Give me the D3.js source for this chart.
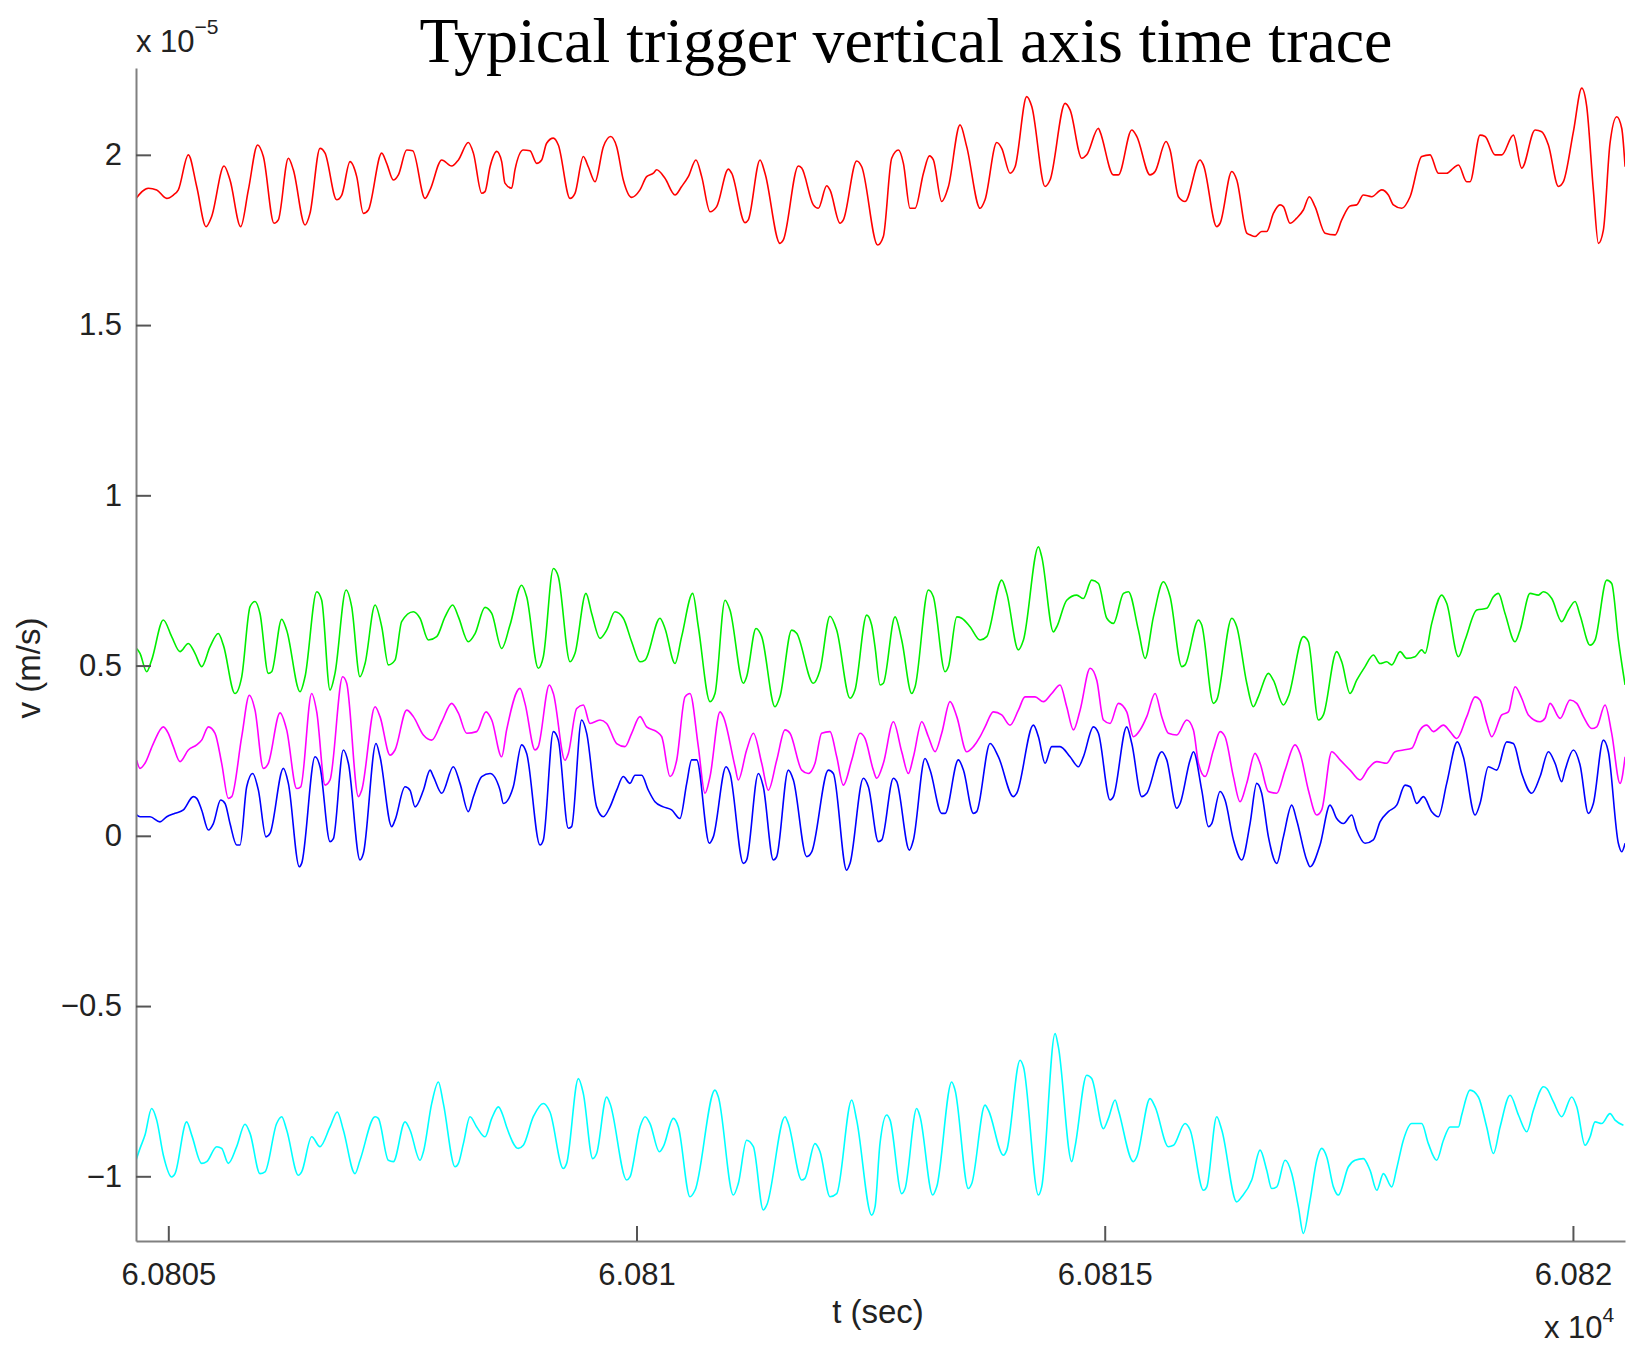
<!DOCTYPE html>
<html>
<head>
<meta charset="utf-8">
<script src="https://cdn.jsdelivr.net/npm/d3@7"></script>
<style>
  body { margin: 0; background: #fff; }
  svg { display: block; }
</style>
</head>
<body>
<script>
// Time is seconds after T0, velocity in units of 1e-5 m/s
var T0 = 60805;

var redTrace = [[-0.356,1.868],[-0.213,1.902],[-0.124,1.897],[-0.017,1.872],[0.054,1.882],[0.107,1.897],[0.214,2.000],[0.303,1.907],[0.403,1.789],[0.463,1.819],[0.595,1.967],[0.659,1.926],[0.773,1.789],[0.855,1.897],[0.954,2.029],[1.015,1.995],[1.129,1.799],[1.175,1.809],[1.282,1.990],[1.335,1.956],[1.460,1.794],[1.513,1.828],[1.620,2.019],[1.674,2.005],[1.798,1.868],[1.852,1.882],[1.941,1.980],[2.012,1.936],[2.083,1.828],[2.136,1.838],[2.279,2.005],[2.332,1.975],[2.403,1.926],[2.457,1.941],[2.546,2.014],[2.610,2.012],[2.742,1.872],[2.795,1.897],[2.920,1.985],[3.026,1.967],[3.098,1.985],[3.204,2.036],[3.258,2.005],[3.347,1.887],[3.382,1.892],[3.436,1.965],[3.507,2.010],[3.560,1.980],[3.595,1.917],[3.667,1.902],[3.702,1.956],[3.791,2.014],[3.862,2.012],[3.934,1.975],[3.987,1.985],[4.040,2.034],[4.112,2.049],[4.165,2.029],[4.290,1.872],[4.343,1.887],[4.432,1.995],[4.485,1.965],[4.557,1.921],[4.646,2.024],[4.724,2.054],[4.788,2.024],[4.859,1.926],[4.948,1.875],[5.037,1.897],[5.108,1.936],[5.180,1.946],[5.215,1.956],[5.304,1.931],[5.411,1.882],[5.482,1.907],[5.553,1.936],[5.635,1.985],[5.696,1.936],[5.785,1.833],[5.856,1.848],[5.981,1.958],[6.016,1.946],[6.159,1.801],[6.194,1.809],[6.319,1.985],[6.372,1.946],[6.532,1.740],[6.568,1.750],[6.728,1.967],[6.764,1.961],[6.888,1.853],[6.942,1.843],[7.031,1.909],[7.066,1.897],[7.173,1.799],[7.209,1.809],[7.351,1.982],[7.405,1.965],[7.575,1.735],[7.636,1.760],[7.725,1.990],[7.797,2.014],[7.850,1.975],[7.921,1.843],[7.975,1.843],[8.064,1.946],[8.128,1.997],[8.170,1.985],[8.259,1.863],[8.331,1.907],[8.455,2.088],[8.526,2.024],[8.669,1.843],[8.722,1.868],[8.847,2.036],[8.900,2.019],[8.989,1.946],[9.043,1.965],[9.167,2.171],[9.221,2.142],[9.363,1.907],[9.416,1.926],[9.577,2.151],[9.630,2.132],[9.755,1.990],[9.808,2.000],[9.933,2.078],[9.950,2.068],[10.093,1.941],[10.146,1.941],[10.289,2.073],[10.342,2.054],[10.484,1.941],[10.538,1.951],[10.655,2.039],[10.698,2.014],[10.787,1.877],[10.858,1.863],[11.018,1.985],[11.054,1.970],[11.196,1.789],[11.232,1.799],[11.357,1.951],[11.410,1.926],[11.517,1.770],[11.552,1.765],[11.605,1.760],[11.676,1.775],[11.730,1.775],[11.801,1.828],[11.872,1.853],[11.908,1.848],[11.979,1.799],[12.050,1.814],[12.121,1.838],[12.185,1.877],[12.246,1.848],[12.353,1.770],[12.460,1.765],[12.531,1.809],[12.620,1.850],[12.691,1.853],[12.762,1.882],[12.851,1.877],[12.958,1.897],[13.029,1.882],[13.083,1.853],[13.172,1.843],[13.261,1.877],[13.385,1.995],[13.474,2.000],[13.563,1.946],[13.652,1.946],[13.723,1.961],[13.777,1.970],[13.866,1.921],[13.901,1.921],[14.008,2.058],[14.062,2.054],[14.168,2.000],[14.240,2.000],[14.364,2.058],[14.453,1.961],[14.596,2.073],[14.667,2.068],[14.738,2.029],[14.845,1.907],[14.898,1.921],[15.005,2.068],[15.094,2.196],[15.147,2.142],[15.218,1.897],[15.272,1.740],[15.325,1.779],[15.396,2.034],[15.468,2.112],[15.521,2.078],[15.557,1.965]];

var greenTrace = [[-0.356,0.555],[-0.302,0.536],[-0.231,0.482],[-0.178,0.516],[-0.053,0.634],[0.036,0.585],[0.125,0.541],[0.214,0.565],[0.285,0.536],[0.356,0.497],[0.445,0.555],[0.534,0.594],[0.588,0.560],[0.712,0.418],[0.784,0.467],[0.873,0.673],[0.926,0.688],[0.979,0.653],[1.068,0.477],[1.104,0.482],[1.211,0.636],[1.264,0.604],[1.407,0.423],[1.460,0.467],[1.585,0.717],[1.638,0.692],[1.727,0.428],[1.780,0.477],[1.898,0.722],[1.958,0.673],[2.047,0.467],[2.101,0.506],[2.208,0.678],[2.279,0.614],[2.350,0.502],[2.421,0.516],[2.492,0.629],[2.617,0.658],[2.688,0.639],[2.777,0.575],[2.866,0.585],[2.955,0.643],[3.037,0.678],[3.098,0.643],[3.204,0.570],[3.276,0.594],[3.382,0.671],[3.454,0.653],[3.560,0.550],[3.649,0.619],[3.773,0.736],[3.827,0.702],[3.951,0.492],[4.005,0.526],[4.112,0.785],[4.165,0.761],[4.290,0.511],[4.343,0.536],[4.460,0.712],[4.521,0.653],[4.610,0.580],[4.681,0.604],[4.770,0.658],[4.859,0.639],[4.948,0.570],[5.037,0.511],[5.091,0.516],[5.251,0.639],[5.304,0.609],[5.411,0.506],[5.482,0.585],[5.600,0.712],[5.660,0.614],[5.785,0.394],[5.838,0.418],[5.945,0.692],[5.998,0.663],[6.141,0.448],[6.176,0.467],[6.276,0.609],[6.337,0.585],[6.479,0.379],[6.532,0.409],[6.657,0.604],[6.710,0.595],[6.888,0.448],[6.960,0.487],[7.066,0.645],[7.138,0.604],[7.280,0.404],[7.333,0.428],[7.458,0.648],[7.511,0.619],[7.547,0.555],[7.601,0.443],[7.636,0.448],[7.761,0.643],[7.832,0.575],[7.939,0.418],[7.975,0.438],[8.117,0.722],[8.170,0.702],[8.295,0.482],[8.331,0.497],[8.420,0.643],[8.473,0.639],[8.562,0.614],[8.669,0.575],[8.740,0.585],[8.900,0.751],[8.954,0.712],[9.078,0.546],[9.132,0.575],[9.292,0.849],[9.327,0.820],[9.452,0.599],[9.488,0.614],[9.594,0.692],[9.701,0.707],[9.772,0.697],[9.861,0.751],[9.933,0.741],[10.022,0.639],[10.093,0.624],[10.200,0.712],[10.253,0.717],[10.360,0.604],[10.431,0.521],[10.520,0.643],[10.627,0.746],[10.698,0.702],[10.823,0.497],[10.858,0.502],[11.001,0.634],[11.036,0.619],[11.161,0.389],[11.196,0.399],[11.357,0.639],[11.410,0.614],[11.517,0.448],[11.587,0.379],[11.641,0.409],[11.748,0.477],[11.801,0.457],[11.908,0.384],[11.961,0.409],[12.121,0.585],[12.175,0.570],[12.282,0.340],[12.335,0.355],[12.477,0.541],[12.531,0.511],[12.620,0.418],[12.691,0.457],[12.780,0.497],[12.869,0.531],[12.940,0.506],[13.011,0.511],[13.065,0.502],[13.154,0.541],[13.225,0.521],[13.314,0.526],[13.385,0.546],[13.421,0.536],[13.492,0.624],[13.599,0.707],[13.652,0.683],[13.777,0.526],[13.848,0.575],[13.973,0.663],[14.079,0.668],[14.151,0.702],[14.204,0.712],[14.275,0.653],[14.382,0.570],[14.435,0.604],[14.542,0.712],[14.631,0.707],[14.685,0.717],[14.774,0.697],[14.880,0.629],[14.952,0.663],[15.023,0.688],[15.076,0.648],[15.183,0.560],[15.236,0.575],[15.361,0.751],[15.414,0.741],[15.486,0.575],[15.557,0.443]];

var magentaTrace = [[-0.338,0.222],[-0.302,0.198],[-0.249,0.213],[-0.160,0.271],[-0.053,0.320],[0.000,0.301],[0.054,0.262],[0.125,0.218],[0.214,0.252],[0.303,0.267],[0.356,0.281],[0.428,0.320],[0.499,0.301],[0.570,0.213],[0.641,0.110],[0.677,0.115],[0.784,0.291],[0.865,0.413],[0.926,0.369],[1.015,0.198],[1.068,0.213],[1.193,0.361],[1.264,0.311],[1.371,0.139],[1.414,0.144],[1.531,0.418],[1.585,0.364],[1.674,0.149],[1.727,0.164],[1.862,0.467],[1.905,0.448],[2.030,0.115],[2.065,0.134],[2.208,0.379],[2.261,0.350],[2.368,0.237],[2.421,0.252],[2.546,0.369],[2.617,0.350],[2.724,0.296],[2.813,0.281],[2.920,0.335],[3.026,0.389],[3.098,0.360],[3.187,0.301],[3.293,0.306],[3.393,0.364],[3.454,0.340],[3.560,0.232],[3.613,0.311],[3.756,0.433],[3.809,0.389],[3.916,0.252],[3.951,0.262],[4.069,0.443],[4.112,0.418],[4.236,0.222],[4.272,0.242],[4.361,0.374],[4.432,0.384],[4.503,0.330],[4.610,0.340],[4.681,0.330],[4.788,0.271],[4.877,0.262],[4.948,0.301],[5.037,0.350],[5.108,0.320],[5.215,0.306],[5.269,0.291],[5.358,0.174],[5.429,0.222],[5.518,0.408],[5.571,0.418],[5.660,0.262],[5.731,0.125],[5.785,0.174],[5.892,0.364],[5.927,0.350],[6.052,0.203],[6.087,0.164],[6.176,0.252],[6.248,0.301],[6.337,0.213],[6.408,0.134],[6.497,0.222],[6.586,0.311],[6.639,0.301],[6.764,0.193],[6.835,0.183],[6.906,0.213],[6.977,0.301],[7.066,0.306],[7.138,0.232],[7.209,0.149],[7.298,0.222],[7.387,0.301],[7.440,0.286],[7.529,0.193],[7.565,0.169],[7.636,0.213],[7.743,0.335],[7.832,0.247],[7.903,0.183],[7.957,0.232],[8.046,0.335],[8.117,0.291],[8.188,0.247],[8.259,0.301],[8.348,0.394],[8.420,0.350],[8.526,0.247],[8.598,0.262],[8.669,0.291],[8.722,0.320],[8.811,0.364],[8.900,0.355],[8.989,0.325],[9.078,0.369],[9.149,0.408],[9.256,0.408],[9.345,0.394],[9.434,0.418],[9.523,0.443],[9.594,0.379],[9.666,0.311],[9.737,0.369],[9.844,0.492],[9.915,0.457],[9.986,0.340],[10.057,0.330],[10.146,0.389],[10.235,0.364],[10.306,0.291],[10.378,0.311],[10.449,0.350],[10.538,0.418],[10.609,0.350],[10.680,0.301],[10.769,0.296],[10.876,0.340],[10.947,0.311],[11.001,0.213],[11.072,0.174],[11.161,0.252],[11.232,0.306],[11.285,0.291],[11.374,0.174],[11.445,0.100],[11.516,0.154],[11.605,0.242],[11.659,0.213],[11.748,0.130],[11.837,0.125],[11.926,0.193],[12.032,0.267],[12.086,0.242],[12.175,0.134],[12.264,0.061],[12.317,0.076],[12.424,0.247],[12.513,0.223],[12.620,0.193],[12.727,0.164],[12.816,0.198],[12.905,0.218],[13.011,0.213],[13.100,0.247],[13.189,0.252],[13.278,0.257],[13.367,0.311],[13.439,0.325],[13.510,0.306],[13.617,0.325],[13.688,0.306],[13.759,0.286],[13.866,0.350],[13.955,0.408],[14.008,0.399],[14.079,0.330],[14.133,0.291],[14.240,0.355],[14.311,0.364],[14.382,0.438],[14.453,0.404],[14.524,0.355],[14.649,0.335],[14.702,0.345],[14.756,0.389],[14.863,0.345],[14.969,0.399],[15.041,0.389],[15.112,0.350],[15.201,0.315],[15.254,0.320],[15.343,0.384],[15.414,0.301],[15.503,0.154],[15.557,0.232]];

var blueTrace = [[-0.356,0.066],[-0.302,0.056],[-0.195,0.056],[-0.089,0.041],[-0.017,0.056],[0.072,0.066],[0.161,0.076],[0.267,0.115],[0.303,0.110],[0.356,0.076],[0.428,0.017],[0.481,0.036],[0.559,0.105],[0.606,0.095],[0.659,0.036],[0.730,-0.027],[0.766,-0.027],[0.837,0.144],[0.901,0.183],[0.962,0.134],[1.043,-0.003],[1.086,0.007],[1.229,0.198],[1.282,0.154],[1.399,-0.091],[1.424,-0.081],[1.567,0.232],[1.620,0.203],[1.727,-0.017],[1.763,-0.008],[1.869,0.252],[1.923,0.213],[2.047,-0.071],[2.083,-0.052],[2.218,0.271],[2.261,0.232],[2.386,0.027],[2.421,0.046],[2.528,0.144],[2.581,0.134],[2.635,0.085],[2.724,0.134],[2.795,0.193],[2.831,0.174],[2.920,0.125],[3.044,0.203],[3.115,0.154],[3.204,0.071],[3.258,0.115],[3.347,0.174],[3.436,0.183],[3.543,0.134],[3.578,0.095],[3.684,0.144],[3.773,0.267],[3.827,0.242],[3.969,-0.027],[4.005,-0.012],[4.112,0.306],[4.165,0.281],[4.272,0.022],[4.307,0.027],[4.414,0.340],[4.468,0.301],[4.574,0.085],[4.646,0.056],[4.717,0.085],[4.788,0.134],[4.859,0.174],[4.930,0.154],[4.984,0.178],[5.055,0.178],[5.126,0.134],[5.197,0.100],[5.286,0.085],[5.375,0.076],[5.464,0.051],[5.536,0.154],[5.589,0.223],[5.642,0.223],[5.778,-0.022],[5.820,-0.003],[5.956,0.203],[5.998,0.183],[6.141,-0.081],[6.176,-0.071],[6.301,0.183],[6.354,0.144],[6.461,-0.071],[6.497,-0.061],[6.621,0.193],[6.675,0.164],[6.817,-0.061],[6.871,-0.047],[7.049,0.193],[7.102,0.183],[7.244,-0.101],[7.280,-0.081],[7.422,0.169],[7.476,0.144],[7.583,-0.017],[7.619,-0.012],[7.743,0.169],[7.779,0.159],[7.914,-0.042],[7.957,-0.012],[8.081,0.227],[8.135,0.193],[8.259,0.066],[8.295,0.066],[8.437,0.223],[8.491,0.193],[8.598,0.066],[8.633,0.071],[8.776,0.271],[8.865,0.232],[9.025,0.115],[9.060,0.125],[9.238,0.325],[9.292,0.291],[9.363,0.213],[9.434,0.262],[9.523,0.262],[9.630,0.232],[9.719,0.203],[9.772,0.232],[9.879,0.320],[9.933,0.301],[10.057,0.105],[10.093,0.115],[10.235,0.320],[10.289,0.271],[10.395,0.115],[10.449,0.125],[10.609,0.247],[10.662,0.223],[10.769,0.081],[10.805,0.095],[10.912,0.223],[10.947,0.247],[11.036,0.134],[11.107,0.027],[11.143,0.036],[11.232,0.130],[11.285,0.105],[11.374,-0.012],[11.463,-0.071],[11.552,0.036],[11.623,0.154],[11.676,0.125],[11.748,-0.003],[11.837,-0.081],[11.908,-0.003],[11.997,0.090],[12.050,0.046],[12.157,-0.071],[12.193,-0.091],[12.299,-0.027],[12.406,0.090],[12.477,0.051],[12.549,0.036],[12.638,0.061],[12.691,0.017],[12.780,-0.022],[12.869,-0.012],[12.940,0.041],[13.029,0.071],[13.118,0.090],[13.207,0.149],[13.261,0.144],[13.332,0.095],[13.403,0.115],[13.492,0.071],[13.563,0.056],[13.652,0.154],[13.766,0.276],[13.830,0.232],[13.955,0.061],[14.008,0.095],[14.097,0.203],[14.186,0.193],[14.293,0.276],[14.364,0.271],[14.453,0.183],[14.560,0.125],[14.649,0.174],[14.738,0.247],[14.809,0.213],[14.880,0.159],[14.916,0.193],[15.005,0.252],[15.076,0.208],[15.165,0.066],[15.218,0.095],[15.325,0.281],[15.378,0.247],[15.485,-0.022],[15.521,-0.047],[15.557,-0.022]];

var cyanTrace = [[-0.345,-0.953],[-0.302,-0.918],[-0.249,-0.879],[-0.178,-0.801],[-0.124,-0.835],[-0.053,-0.938],[0.036,-1.002],[0.072,-0.992],[0.196,-0.840],[0.250,-0.879],[0.356,-0.962],[0.410,-0.957],[0.517,-0.913],[0.570,-0.918],[0.641,-0.962],[0.730,-0.913],[0.819,-0.847],[0.873,-0.874],[0.979,-0.992],[1.033,-0.987],[1.157,-0.845],[1.211,-0.825],[1.264,-0.864],[1.389,-0.997],[1.424,-0.987],[1.531,-0.884],[1.620,-0.913],[1.727,-0.855],[1.805,-0.811],[1.869,-0.864],[1.994,-0.992],[2.047,-0.953],[2.208,-0.825],[2.243,-0.830],[2.350,-0.953],[2.403,-0.957],[2.528,-0.840],[2.581,-0.864],[2.688,-0.953],[2.724,-0.928],[2.813,-0.786],[2.884,-0.723],[2.937,-0.786],[3.062,-0.972],[3.098,-0.962],[3.151,-0.904],[3.222,-0.825],[3.293,-0.855],[3.382,-0.884],[3.454,-0.830],[3.525,-0.796],[3.578,-0.825],[3.613,-0.855],[3.738,-0.918],[3.791,-0.909],[3.898,-0.825],[4.005,-0.786],[4.076,-0.811],[4.218,-0.977],[4.254,-0.962],[4.379,-0.713],[4.432,-0.757],[4.532,-0.948],[4.574,-0.933],[4.681,-0.767],[4.717,-0.786],[4.895,-1.011],[4.930,-1.002],[5.037,-0.855],[5.091,-0.825],[5.144,-0.845],[5.244,-0.928],[5.286,-0.913],[5.393,-0.830],[5.447,-0.855],[5.571,-1.060],[5.625,-1.041],[5.838,-0.747],[5.874,-0.767],[6.034,-1.055],[6.087,-1.021],[6.176,-0.894],[6.248,-0.913],[6.354,-1.099],[6.390,-1.085],[6.586,-0.825],[6.621,-0.845],[6.764,-1.011],[6.799,-1.006],[6.906,-0.904],[6.960,-0.928],[7.066,-1.060],[7.138,-1.051],[7.298,-0.776],[7.351,-0.835],[7.511,-1.114],[7.547,-1.090],[7.600,-0.904],[7.672,-0.820],[7.708,-0.835],[7.832,-1.051],[7.868,-1.036],[7.992,-0.801],[8.028,-0.825],[8.163,-1.055],[8.206,-1.031],[8.366,-0.723],[8.402,-0.747],[8.544,-1.036],[8.580,-1.021],[8.722,-0.791],[8.758,-0.806],[8.918,-0.938],[8.954,-0.923],[9.096,-0.659],[9.132,-0.678],[9.292,-1.055],[9.327,-1.031],[9.470,-0.581],[9.505,-0.620],[9.648,-0.957],[9.683,-0.913],[9.808,-0.703],[9.861,-0.713],[9.986,-0.860],[10.039,-0.830],[10.111,-0.776],[10.146,-0.806],[10.306,-0.957],[10.342,-0.943],[10.484,-0.772],[10.538,-0.796],[10.680,-0.913],[10.734,-0.909],[10.858,-0.845],[10.912,-0.864],[11.054,-1.041],[11.090,-1.031],[11.196,-0.825],[11.250,-0.864],[11.410,-1.075],[11.463,-1.060],[11.570,-1.011],[11.659,-0.923],[11.730,-0.982],[11.783,-1.036],[11.837,-1.031],[11.926,-0.953],[11.997,-0.992],[12.068,-1.090],[12.121,-1.168],[12.193,-1.070],[12.264,-0.953],[12.317,-0.918],[12.371,-0.943],[12.442,-1.031],[12.495,-1.055],[12.602,-0.972],[12.673,-0.953],[12.762,-0.948],[12.833,-0.982],[12.905,-1.041],[12.976,-0.992],[13.065,-1.031],[13.118,-0.977],[13.189,-0.894],[13.278,-0.845],[13.385,-0.845],[13.456,-0.904],[13.545,-0.953],[13.617,-0.894],[13.688,-0.855],[13.777,-0.855],[13.812,-0.820],[13.901,-0.747],[13.990,-0.767],[14.079,-0.855],[14.151,-0.933],[14.222,-0.855],[14.329,-0.762],[14.418,-0.820],[14.507,-0.869],[14.578,-0.806],[14.685,-0.737],[14.720,-0.742],[14.791,-0.781],[14.880,-0.825],[14.987,-0.767],[15.041,-0.796],[15.130,-0.909],[15.183,-0.884],[15.236,-0.840],[15.307,-0.845],[15.396,-0.816],[15.450,-0.835],[15.539,-0.850]];

var xTicks = [60805, 60810, 60815, 60820];
var yTicks = [-1, -0.5, 0, 0.5, 1, 1.5, 2];
var tRange = [-0.345, 15.556];
var vRange = [-1.19, 2.255];

var series = [
    { name: "red", color: "#ff0000", data: redTrace },
    { name: "green", color: "#00ee00", data: greenTrace },
    { name: "magenta", color: "#ff00ff", data: magentaTrace },
    { name: "blue", color: "#0000ff", data: blueTrace },
    { name: "cyan", color: "#00ffff", data: cyanTrace }
];

// Plot box
var W = 1636, H = 1348,
    plot = { left: 136, right: 1625, top: 68, bottom: 1241 };

var svg = d3.select("body").append("svg")
    .attr("width", W)
    .attr("height", H);

var x = d3.scaleLinear()
    .domain([T0 + tRange[0], T0 + tRange[1]])
    .range([plot.left, plot.right]);
var y = d3.scaleLinear()
    .domain(vRange)
    .range([plot.bottom, plot.top]);

svg.append("defs").append("clipPath").attr("id", "clip")
  .append("rect")
    .attr("x", plot.left).attr("y", plot.top)
    .attr("width", plot.right - plot.left)
    .attr("height", plot.bottom - plot.top);

var line = d3.line()
    .x(function (d) { return x(T0 + d[0]); })
    .y(function (d) { return y(d[1]); })
    .curve(d3.curveMonotoneX);

svg.append("g")
    .attr("clip-path", "url(#clip)")
  .selectAll("path")
    .data(series)
    .enter().append("path")
      .attr("d", function (d) { return line(d.data); })
      .attr("fill", "none")
      .attr("stroke", function (d) { return d.color; })
      .attr("stroke-width", 1.6)
      .attr("stroke-linejoin", "round");

var labelFont = "'Liberation Sans', Arial, sans-serif";

// Axes (MATLAB style: ticks pointing inward, no box)
var yAxis = svg.append("g")
    .attr("transform", "translate(" + plot.left + ",0)")
    .call(d3.axisLeft(y).tickValues(yTicks).tickFormat(d3.format(""))
        .tickSizeInner(-15).tickSizeOuter(0).tickPadding(14));

var xAxis = svg.append("g")
    .attr("transform", "translate(0," + plot.bottom + ")")
    .call(d3.axisBottom(x).tickValues(xTicks)
        .tickFormat(function (t) { return String(+(t / 1e4).toFixed(4)); })
        .tickSizeInner(-15).tickSizeOuter(0).tickPadding(22));

[yAxis, xAxis].forEach(function (a) {
    a.select(".domain").attr("stroke", "#808080").attr("stroke-width", 2);
    a.selectAll(".tick line").attr("stroke", "#555").attr("stroke-width", 2);
    a.selectAll(".tick text")
        .attr("fill", "#222")
        .style("font-family", labelFont)
        .style("font-size", "31px");
});

// Title, fitted to the width it has in the reference
var title = svg.append("text")
    .attr("x", 906)
    .attr("y", 62)
    .attr("text-anchor", "middle")
    .style("font-family", "'Liberation Serif', 'Times New Roman', serif")
    .style("font-size", "56px")
    .attr("fill", "#000")
    .text("Typical trigger vertical axis time trace");
var tw = title.node().getComputedTextLength();
title.style("font-size", (56 * 973 / tw).toFixed(1) + "px");

// Exponent labels
var expY = svg.append("text")
    .attr("x", plot.left)
    .attr("y", 52)
    .style("font-family", labelFont)
    .style("font-size", "31px")
    .attr("fill", "#222");
expY.append("tspan").text("x 10");
expY.append("tspan").attr("dy", -18).style("font-size", "21px").text("\u22125");

var expX = svg.append("text")
    .attr("x", 1544)
    .attr("y", 1338)
    .style("font-family", labelFont)
    .style("font-size", "31px")
    .attr("fill", "#222");
expX.append("tspan").text("x 10");
expX.append("tspan").attr("dy", -16).style("font-size", "21px").text("4");

// Axis labels
svg.append("text")
    .attr("x", 878)
    .attr("y", 1323)
    .attr("text-anchor", "middle")
    .style("font-family", labelFont)
    .style("font-size", "33px")
    .attr("fill", "#222")
    .text("t (sec)");

svg.append("text")
    .attr("transform", "translate(40,668) rotate(-90)")
    .attr("text-anchor", "middle")
    .style("font-family", labelFont)
    .style("font-size", "33px")
    .attr("fill", "#222")
    .text("v (m/s)");
</script>
</body>
</html>
